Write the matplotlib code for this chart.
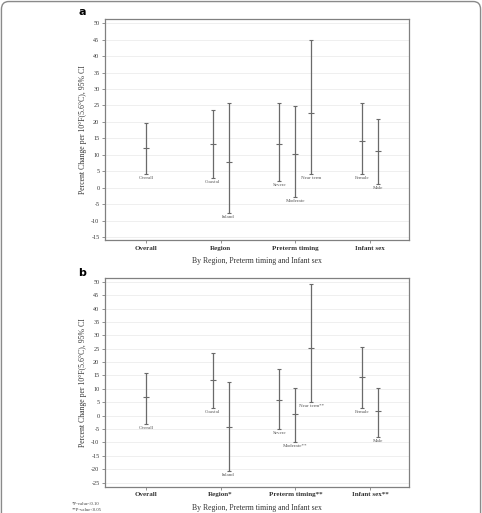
import matplotlib
matplotlib.use("Agg")
import matplotlib.pyplot as plt
from matplotlib.patches import FancyBboxPatch

# categories on the x axis
groups_a = ['Overall', 'Region', 'Preterm timing', 'Infant sex']
groups_b = ['Overall', 'Region*', 'Preterm timing**', 'Infant sex**']

# subgroups, which category they belong to and their slot within it
sub_a = ['Overall', 'Coastal', 'Inland', 'Severe', 'Moderate', 'Near term', 'Female', 'Male']
sub_b = ['Overall', 'Coastal', 'Inland', 'Severe', 'Moderate**', 'Near term**', 'Female', 'Male']
group_idx = [0, 1, 1, 2, 2, 2, 3, 3]
slot = [0, -0.5, 0.5, -1, 0, 1, -0.5, 0.5]

# panel a: estimate, lower and upper 95% CI
est_a = [12.2, 13.3, 7.9, 13.3, 10.1, 22.7, 14.3, 11.2]
lo_a = [4.2, 3.0, -7.6, 2.1, -2.9, 4.2, 4.2, 1.0]
hi_a = [19.8, 23.5, 25.9, 25.9, 24.7, 44.8, 25.9, 21.0]

# panel b
est_b = [6.9, 13.3, -4.2, 5.7, 0.7, 25.3, 14.6, 1.7]
lo_b = [-3.0, 3.0, -20.6, -5.0, -9.7, 5.1, 3.0, -7.9]
hi_b = [16.1, 23.3, 12.6, 17.3, 10.3, 49.3, 25.8, 10.3]

serif = 'Liberation Serif'
grey = '#808080'
bar_col = '#6a6a6a'

fig = plt.figure(figsize=(4.82, 5.13), dpi=100)

# rounded frame around the whole figure
frame = FancyBboxPatch((0.003, -0.05), 0.994, 1.047, boxstyle='round,pad=0,rounding_size=0.015',
                       transform=fig.transFigure, fill=False, edgecolor='#8a8a8a', lw=1.0)
fig.patches.append(frame)


def panel(ax, groups, subs, est, lo, hi, yticks, ylim):
    xs = [g + 1 + s * 0.214 for g, s in zip(group_idx, slot)]
    for x, e, l, h, name in zip(xs, est, lo, hi, subs):
        ax.errorbar([x], [e], yerr=[[e - l], [h - e]], fmt='_', color=bar_col,
                    ecolor=bar_col, elinewidth=0.9, capsize=1.6, capthick=0.8,
                    markersize=3.8, markeredgewidth=0.8, zorder=3)
        ax.annotate(name, (x, l), xytext=(0, -1.5), textcoords='offset points',
                    ha='center', va='top', fontsize=3.6, family=serif, color='#555555')
    ax.set_xlim(0.451, 4.522)
    ax.set_ylim(*ylim)
    ax.set_yticks(yticks)
    ax.set_yticklabels([str(t) for t in yticks], family=serif, fontsize=4.4, color='#333333')
    ax.set_xticks([1, 2, 3, 4])
    ax.set_xticklabels(groups, family=serif, fontsize=5.0, fontweight='bold', color='#333333')
    ax.grid(axis='y', color='#ececec', lw=0.6, zorder=0)
    ax.set_axisbelow(True)
    for sp in ax.spines.values():
        sp.set_color(grey)
        sp.set_linewidth(0.9)
    ax.tick_params(axis='both', length=2.5, width=0.6, color=grey, pad=1.5)
    ax.set_ylabel('Percent Change per 10°F(5.6°C), 95% CI', family=serif, fontsize=5.6,
                  color='#333333', labelpad=3)
    ax.set_xlabel('By Region, Preterm timing and Infant sex', family=serif, fontsize=5.6,
                  color='#333333', labelpad=5)


ax_a = fig.add_axes([0.2178, 0.5322, 0.6307, 0.4308])
panel(ax_a, groups_a, sub_a, est_a, lo_a, hi_a, list(range(-15, 51, 5)), (-15.9, 51.3))

ax_b = fig.add_axes([0.2178, 0.0513, 0.6307, 0.4074])
panel(ax_b, groups_b, sub_b, est_b, lo_b, hi_b, list(range(-25, 51, 5)), (-26.5, 51.5))

fig.text(0.170, 0.977, 'a', fontsize=8, fontweight='bold', family='DejaVu Sans', ha='center', va='center')
fig.text(0.170, 0.468, 'b', fontsize=8, fontweight='bold', family='DejaVu Sans', ha='center', va='center')

fig.text(0.148, 0.018, '*P-value<0.10', fontsize=3.4, family=serif, color='#444444', va='center')
fig.text(0.148, 0.006, '**P-value<0.05', fontsize=3.4, family=serif, color='#444444', va='center')

fig.savefig('out.png', dpi=100)
